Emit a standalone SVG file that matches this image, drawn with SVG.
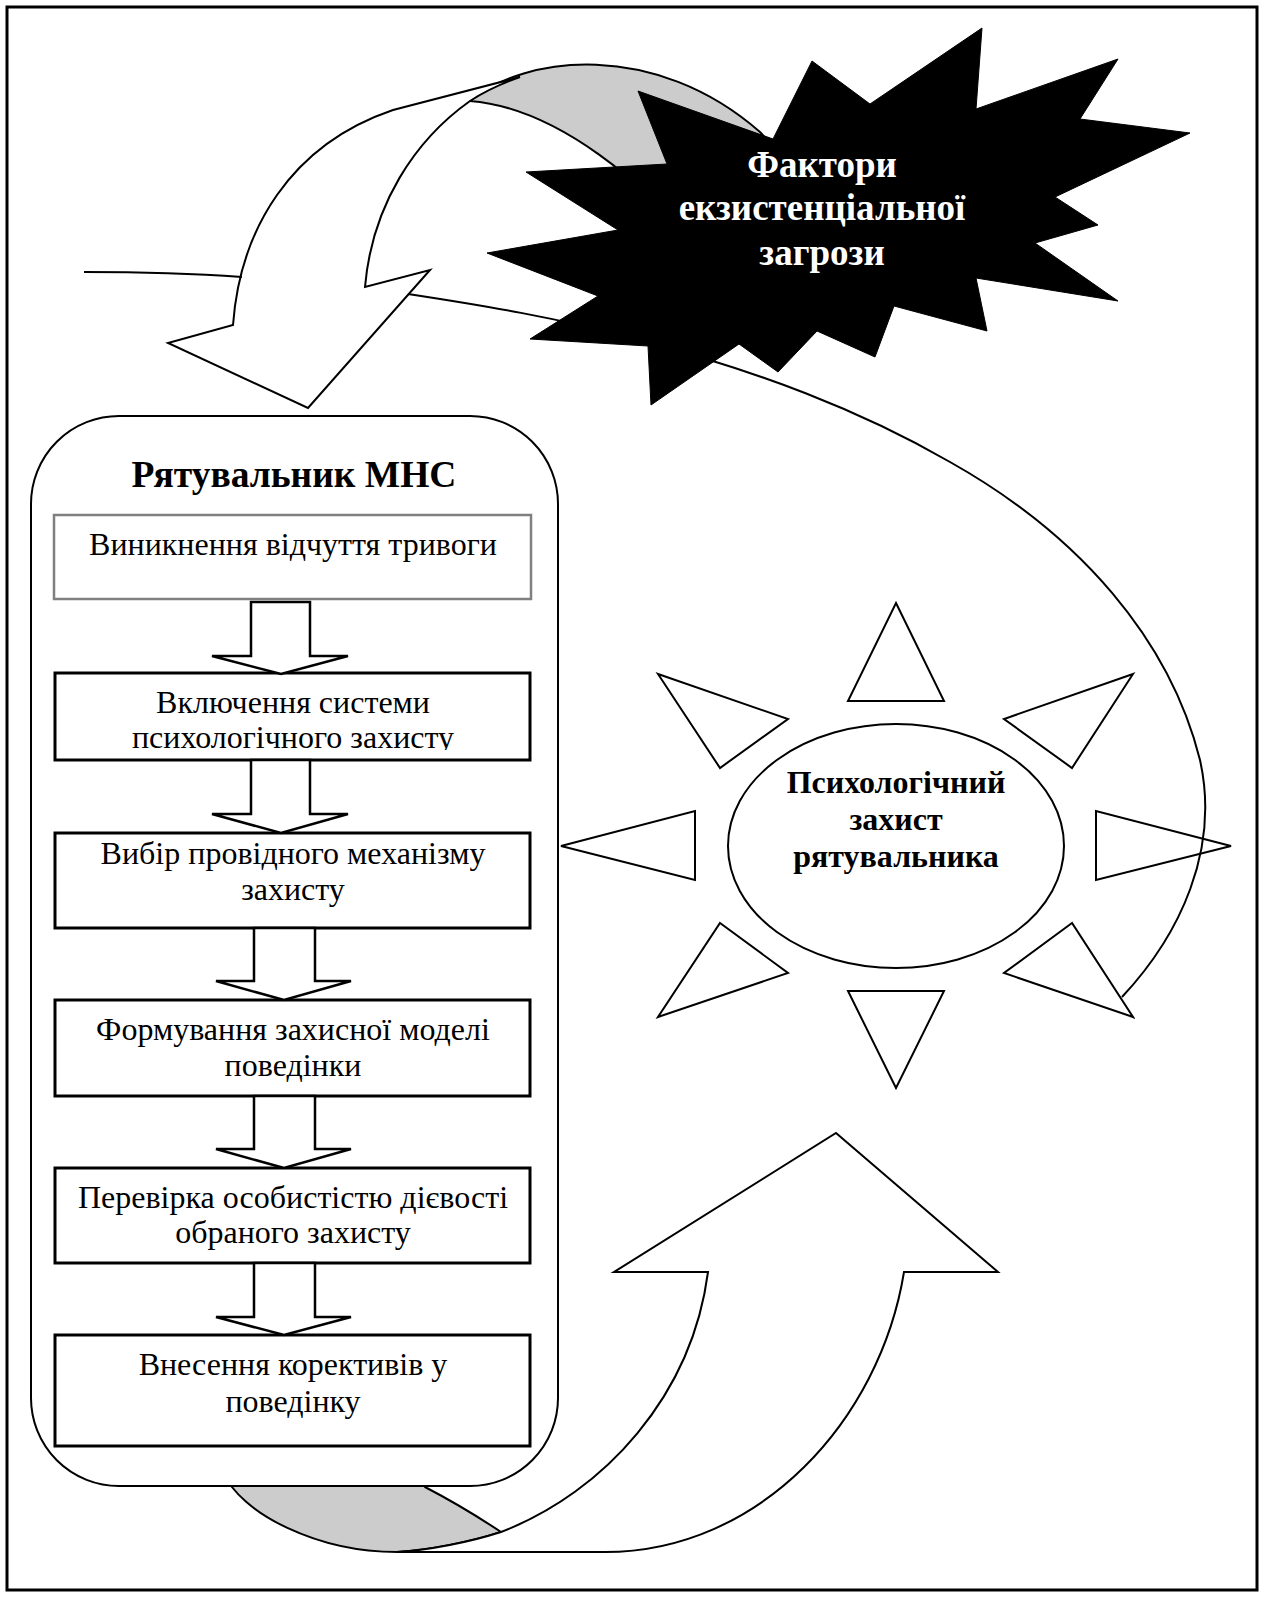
<svg xmlns="http://www.w3.org/2000/svg" width="1264" height="1598" viewBox="0 0 1264 1598">
  <style>
    .ln{fill:none;stroke:#000;stroke-width:2}
    .sh{fill:#fff;stroke:#000;stroke-width:2;stroke-linejoin:miter}
    .gr{fill:#cccccc;stroke:#000;stroke-width:2}
    .box{fill:#fff;stroke:#000;stroke-width:3}
    .blk{fill:#fff;stroke:#000;stroke-width:2.5;stroke-linejoin:miter}
    .t{font-family:"Liberation Serif","Times New Roman",serif;font-size:32px;text-anchor:middle;fill:#000}
    .tb{font-family:"Liberation Serif","Times New Roman",serif;font-weight:bold;text-anchor:middle}
  </style>
  <defs>
    <clipPath id="clip-box2">
      <rect x="55" y="673" width="475" height="77"/>
    </clipPath>
  </defs>

  <!-- page frame -->
  <rect x="7" y="7" width="1250" height="1583" fill="#fff" stroke="#000" stroke-width="3"/>

  <!-- lower curved arrow (returns from the rescuer to the defence) -->
  <g id="arrow-bottom">
    <path class="gr" d="M222,1470 C240,1515 320,1552 397,1552 C430,1550 470,1542 501,1532 C480,1518 450,1500 425,1487 L415,1470 Z"/>
    <path class="sh" d="M397,1552 C430,1550 470,1542 501,1532 C605,1492 692,1395 708,1272 L614,1272 L836,1133 L998,1272 L904,1272 C880,1420 760,1552 605,1552 Z"/>
  </g>

  <!-- rescuer container -->
  <g id="rescuer">
    <rect x="31" y="416" width="527" height="1070" rx="88" ry="88" fill="#fff" stroke="#000" stroke-width="2"/>
    <text class="tb" x="294" y="487" font-size="37.5">Рятувальник МНС</text>
  </g>

  <g id="step1">
    <rect x="54" y="515" width="477" height="84" fill="#fff" stroke="#808080" stroke-width="2.5"/>
    <text class="t" x="293" y="555">Виникнення відчуття тривоги</text>
  </g>
  <g id="step2">
    <rect class="box" x="55" y="673" width="475" height="87"/>
    <text class="t" x="293" y="713">Включення системи</text>
    <text class="t" x="293" y="748" clip-path="url(#clip-box2)">психологічного захисту</text>
  </g>
  <g id="step3">
    <rect class="box" x="55" y="833" width="475" height="95"/>
    <text class="t" x="293" y="864">Вибір провідного механізму</text>
    <text class="t" x="293" y="900">захисту</text>
  </g>
  <g id="step4">
    <rect class="box" x="55" y="1000" width="475" height="96"/>
    <text class="t" x="293" y="1040">Формування захисної моделі</text>
    <text class="t" x="293" y="1076">поведінки</text>
  </g>
  <g id="step5">
    <rect class="box" x="55" y="1168" width="475" height="95"/>
    <text class="t" x="293" y="1208">Перевірка особистістю дієвості</text>
    <text class="t" x="293" y="1243">обраного захисту</text>
  </g>
  <g id="step6">
    <rect class="box" x="55" y="1335" width="475" height="111"/>
    <text class="t" x="293" y="1375">Внесення корективів у</text>
    <text class="t" x="293" y="1412">поведінку</text>
  </g>

  <!-- block arrows between the steps -->
  <g id="connectors">
    <polygon class="blk" points="251,602 310,602 310,656 348,656 281,674 212,656 251,656"/>
    <polygon class="blk" points="251,760 310,760 310,814 348,814 281,833 212,814 251,814"/>
    <polygon class="blk" points="254,928 315,928 315,981 351,981 284,1000 216,981 254,981"/>
    <polygon class="blk" points="254,1096 315,1096 315,1149 351,1149 284,1168 216,1149 254,1149"/>
    <polygon class="blk" points="254,1263 315,1263 315,1317 351,1317 284,1335 216,1317 254,1317"/>
  </g>

  <!-- upper curved arrow (threat acting on the rescuer) -->
  <g id="arrow-top">
    <path class="gr" d="M470,101 C525,55 655,40 760,132 L800,175 L690,240 C650,190 560,108 470,101 Z"/>
    <path class="sh" d="M470,101 C415,140 372,205 365,287 L430,270 L308,408 L168,343 L233,325 C240,230 290,145 393,110 L520,77 C503,83 485,91 470,101 Z"/>
    <path class="ln" d="M84,272 C150,272 200,274 242,277"/>
  </g>

  <!-- psychological defence "sun" -->
  <g id="defence">
    <polygon class="sh" points="896,603 944,701 848,701"/>
    <polygon class="sh" points="658,674 788,719 720,768"/>
    <polygon class="sh" points="1133,674 1004,719 1072,768"/>
    <polygon class="sh" points="561,846 695,811 695,880"/>
    <polygon class="sh" points="1231,846 1096,811 1096,880"/>
    <polygon class="sh" points="720,923 788,973 658,1017"/>
    <polygon class="sh" points="1072,923 1004,973 1133,1017"/>
    <polygon class="sh" points="848,991 944,991 896,1088"/>
    <ellipse class="sh" cx="896" cy="846" rx="168" ry="122"/>
    <text class="tb" x="896" y="793" font-size="32">Психологічний</text>
    <text class="tb" x="896" y="830" font-size="32">захист</text>
    <text class="tb" x="896" y="867" font-size="32">рятувальника</text>
  </g>

  <!-- tail of the upper arrow sweeping round to the defence -->
  <path id="arrow-tail" class="ln" d="M408,294 C480,305 560,318 640,340 C760,372 860,410 950,462 C1080,535 1170,640 1200,760 C1220,850 1180,935 1122,997"/>

  <!-- threat factors burst (explosion outline) -->
  <g id="threat">
    <polygon fill="#000" stroke="#000" stroke-width="1" points="870,104 812,61 773,139 638,91 667,164 526,172 618,230 487,253 598,296 530,339 648,346 651,405 739,344 778,372 817,331 875,357 894,306 987,331 976,278 1118,301 1035,243 1098,225 1055,197 1190,133 1080,119 1118,59 976,109 982,28"/>
    <text class="tb" x="822" y="177" font-size="37" fill="#fff">Фактори</text>
    <text class="tb" x="822" y="220" font-size="37" fill="#fff">екзистенціальної</text>
    <text class="tb" x="822" y="265" font-size="37" fill="#fff">загрози</text>
  </g>
</svg>
